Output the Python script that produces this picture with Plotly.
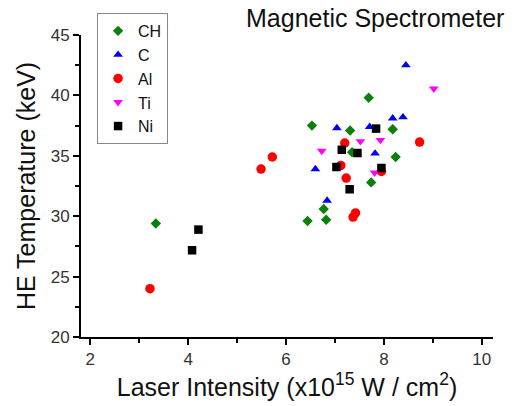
import plotly.graph_objects as go

ch_x = [3.34, 6.44, 6.53, 6.77, 6.82, 7.31, 7.35, 7.69, 7.74, 8.18, 8.24]
ch_y = [29.4, 29.6, 37.5, 30.6, 29.7, 37.1, 35.3, 39.8, 32.8, 37.2, 34.9]

c_x = [6.60, 6.84, 7.04, 7.06, 7.71, 7.82, 8.18, 8.39, 8.45]
c_y = [33.9, 31.3, 37.3, 34.0, 37.4, 35.2, 38.1, 38.2, 42.5]

al_x = [3.22, 5.49, 5.72, 7.12, 7.20, 7.23, 7.37, 7.42, 7.95, 8.73]
al_y = [24.0, 33.9, 34.9, 34.2, 36.06, 33.16, 29.93, 30.27, 33.7, 36.14]

ti_x = [6.73, 7.52, 7.81, 7.93, 9.02]
ti_y = [35.4, 36.2, 33.6, 36.3, 40.56]

ni_x = [4.08, 4.21, 7.03, 7.14, 7.30, 7.46, 7.84, 7.95]
ni_y = [27.18, 28.89, 34.07, 35.5, 32.23, 35.23, 37.25, 33.99]

series = [
    ("CH", ch_x, ch_y, "diamond", "#0a800a", 8),
    ("C", c_x, c_y, "triangle-up", "#0000ee", 8.5),
    ("Al", al_x, al_y, "circle", "#ff0000", 9.5),
    ("Ti", ti_x, ti_y, "triangle-down", "#ff00ff", 8.5),
    ("Ni", ni_x, ni_y, "square", "#000000", 8.5),
]

fig = go.Figure()
for name, xs, ys, sym, col, sz in series:
    fig.add_trace(go.Scatter(x=xs, y=ys, mode="markers", name=name,
                             marker=dict(symbol=sym, color=col, size=sz, line=dict(width=0))))

font = "Liberation Sans, Arial, sans-serif"
fig.update_layout(
    width=514, height=406,
    margin=dict(l=81, r=21, t=35, b=69),
    paper_bgcolor="white", plot_bgcolor="white",
    font=dict(family=font, color="#222"),
    showlegend=True,
    legend=dict(x=0.039, y=1.073, xanchor="left", yanchor="top",
                bordercolor="#888", borderwidth=1, bgcolor="white",
                font=dict(size=16, family=font, color="#111"),
                tracegroupgap=0, itemwidth=30),
    xaxis=dict(range=[1.81, 10.23], tickvals=[2, 4, 6, 8, 10],
               showgrid=False, zeroline=False, showline=True, linecolor="black", linewidth=2,
               ticks="outside", ticklen=6, tickwidth=2, tickcolor="black",
               tickfont=dict(size=17, color="#333"),
               minor=dict(tickvals=[3, 5, 7, 9], ticks="outside", ticklen=4, tickwidth=2, tickcolor="black"),
               title=dict(text="Laser Intensity (x10<sup>15</sup> W / cm<sup>2</sup>)",
                          font=dict(size=25, color="#111"), standoff=6)),
    yaxis=dict(range=[20, 45], tickvals=[20, 25, 30, 35, 40, 45],
               showgrid=False, zeroline=False, showline=True, linecolor="black", linewidth=2,
               ticks="outside", ticklen=6, tickwidth=2, tickcolor="black",
               tickfont=dict(size=17, color="#333"),
               minor=dict(tickvals=[22.5, 27.5, 32.5, 37.5, 42.5], ticks="outside", ticklen=4, tickwidth=2, tickcolor="black"),
               title=dict(text="HE Temperature (keV)", font=dict(size=25, color="#111"), standoff=8)),
    annotations=[dict(text="Magnetic Spectrometer",
                      x=(375 - 81) / 412, y=(337 - 18) / 302,
                      xref="paper", yref="paper", xanchor="center", yanchor="middle",
                      showarrow=False, font=dict(size=25, color="#111", family=font))],
)

fig.write_html("out.html")
